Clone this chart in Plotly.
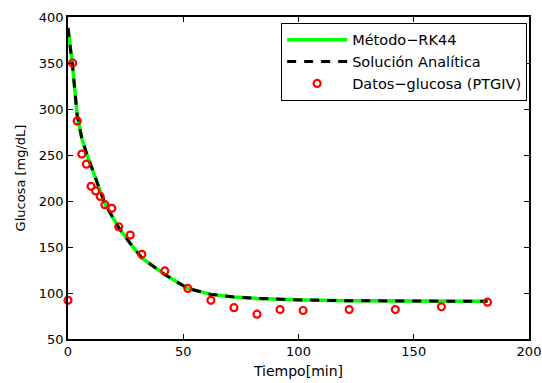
import plotly.graph_objects as go

# Data
t_model = [0, 2, 4, 6, 8, 10, 12, 14, 16, 19, 22, 27, 32, 42, 52, 62, 72, 82, 92, 102, 122, 142, 162, 182]
g_rk44 = [388, 346, 293, 268, 252, 238, 223, 209, 197, 184, 171, 154, 138, 120, 105, 98.5, 95.7, 94.1, 93, 92.4, 91.6, 91.3, 91.1, 90.9]
g_analitica = [388, 346, 293, 268, 252, 238, 223, 209, 197, 184, 171, 154, 138, 120, 105, 98.5, 95.7, 94.1, 93, 92.4, 91.6, 91.3, 91.1, 90.9]

t_datos = [0, 2, 4, 6, 8, 10, 12, 14, 16, 19, 22, 27, 32, 42, 52, 62, 72, 82, 92, 102, 122, 142, 162, 182]
g_datos = [92, 350, 287, 251, 240, 216, 211, 205, 196, 192, 172, 163, 142, 124, 105, 92, 84, 77, 82, 81, 82, 82, 85, 90]

x_ticks = [0, 50, 100, 150, 200]
y_ticks = [50, 100, 150, 200, 250, 300, 350, 400]

FONT = "DejaVu Sans"

fig = go.Figure()
fig.add_trace(go.Scatter(
    x=t_model, y=g_rk44, mode="lines", name="Método−RK44",
    line=dict(color="#00ff00", width=3.5),
))
fig.add_trace(go.Scatter(
    x=t_model, y=g_analitica, mode="lines", name="Solución Analítica",
    line=dict(color="black", width=3, dash="9px,8px"),
))
fig.add_trace(go.Scatter(
    x=t_datos, y=g_datos, mode="markers", name="Datos−glucosa (PTGIV)",
    marker=dict(symbol="circle-open", size=7, color="red", line=dict(color="red", width=2.2)),
    cliponaxis=False,
))

axis_common = dict(
    showgrid=False, zeroline=False, showline=True, linecolor="black", linewidth=1.5,
    mirror="ticks", ticks="inside", ticklen=5, tickwidth=1, tickcolor="black",
    tickfont=dict(family=FONT, size=13, color="black"), automargin=False,
)

fig.update_layout(
    width=542, height=383,
    margin=dict(l=68, r=13, t=17, b=44, autoexpand=False),
    paper_bgcolor="white", plot_bgcolor="white",
    font=dict(family=FONT, size=14, color="black"),
    xaxis=dict(
        range=[0, 200], tickvals=x_ticks, ticktext=[str(v) for v in x_ticks],
        title=dict(text="Tiempo[min]", font=dict(family=FONT, size=14, color="black"), standoff=8),
        **axis_common,
    ),
    yaxis=dict(
        range=[50, 400], tickvals=y_ticks, ticktext=[str(v) for v in y_ticks],
        title=dict(text="Glucosa [mg/dL]", font=dict(family=FONT, size=13, color="black"), standoff=10),
        **axis_common,
    ),
    legend=dict(
        x=0.996, y=0.982, xanchor="right", yanchor="top",
        bgcolor="white", bordercolor="black", borderwidth=1,
        font=dict(family=FONT, size=14.5, color="black"),
        itemwidth=60, tracegroupgap=0,
    ),
    showlegend=True,
)

fig.write_html(
    "out.html",
    config={"displayModeBar": False},
    post_script="document.body.style.margin='0';document.body.style.overflow='hidden';",
)
